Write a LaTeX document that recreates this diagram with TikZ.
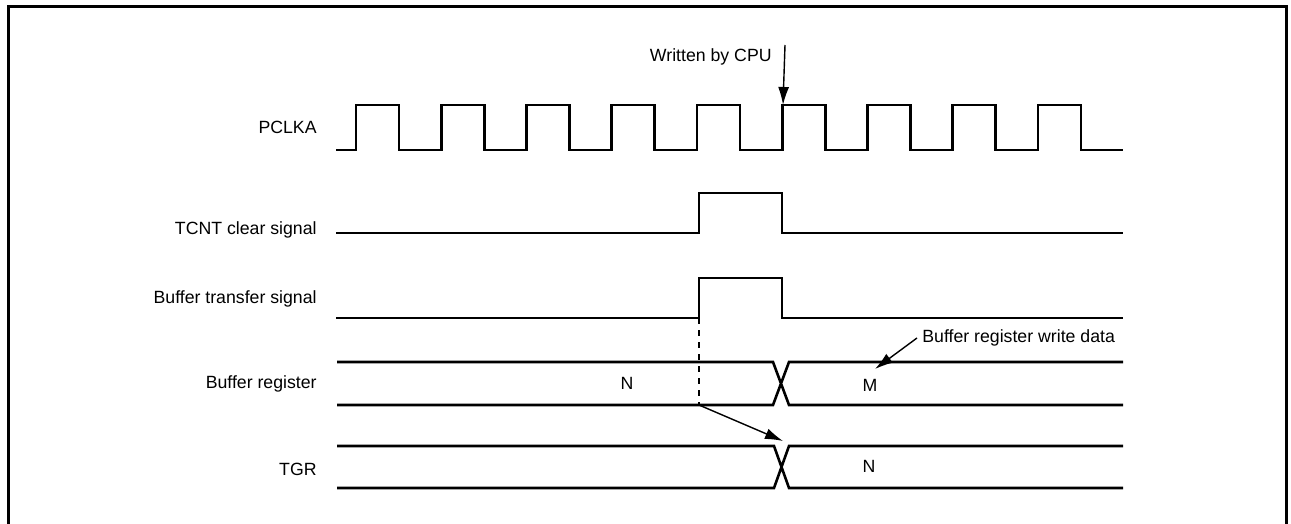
\documentclass[tikz,border=0pt]{standalone}
\usepackage{fontspec}
\setmainfont{Liberation Sans}
\usetikzlibrary{arrows.meta,positioning,calc}
\tikzset{>={Latex[length=9pt,width=5.5pt]},sig/.style={line width=1.3pt,line join=miter},lbl/.style={anchor=east,inner sep=0pt,font=\fontsize{8.85}{10}\selectfont},val/.style={inner sep=0pt,font=\fontsize{8.85}{10}\selectfont},arr/.style={->,line width=0.7pt}}

\begin{document}
\begin{tikzpicture}[x=0.5pt,y=-0.5pt]
\useasboundingbox (0,0) rectangle (1291,524);
\draw[line width=1.5pt] (8,524)--(8,7)--(1286,7)--(1286,524);
\foreach \y/\t/\n in {127/PCLKA/lclk,230/TCNT clear signal/lclr,299/Buffer transfer signal/lbt,384/Buffer register/lbr,469/TGR/ltgr}{\node[lbl] (\n) at (317,\y) {\t};}
\draw[sig] (336,150) \foreach \k in {0,...,8}{ -- ({356+\k*85.25},150) -- ({356+\k*85.25},105) -- ({399+\k*85.25},105) -- ({399+\k*85.25},150)} -- (1123,150);
\draw[sig] (336,233)--(699,233)--(699,193)--(782,193)--(782,233)--(1123,233);
\draw[sig] (336,318)--(699,318)--(699,278)--(782,278)--(782,318)--(1123,318);
\draw[sig] (337,362)--(773,362)--(789,405)--(1123,405) (337,405)--(773,405)--(789,362)--(1123,362);
\draw[sig] (337,446)--(774,446)--(789,488)--(1123,488) (337,488)--(774,488)--(789,446)--(1123,446);
\coordinate (wr) at (783,105);
\coordinate (bts) at (699,318);
\coordinate (brd) at (699,405);
\coordinate (tgx) at (783,441);
\coordinate (wdp) at (875,369);
\node[val,anchor=east] (cpu) at (772,57) {Written by CPU};
\node[val,anchor=west] (wd) at (922,338) {Buffer register write data};
\node[val] (bn) at (627,383) {N};
\node[val] (bm) at (870,385) {M};
\node[val] (tn) at (869,466) {N};
\draw[arr] (785,45) -- (wr);
\draw[line width=0.6pt,dashed] (bts) -- (brd);
\draw[arr] (brd) -- (tgx);
\draw[arr] ($(wd.west)+(-5,0)$) -- (wdp);
\end{tikzpicture}
\end{document}
